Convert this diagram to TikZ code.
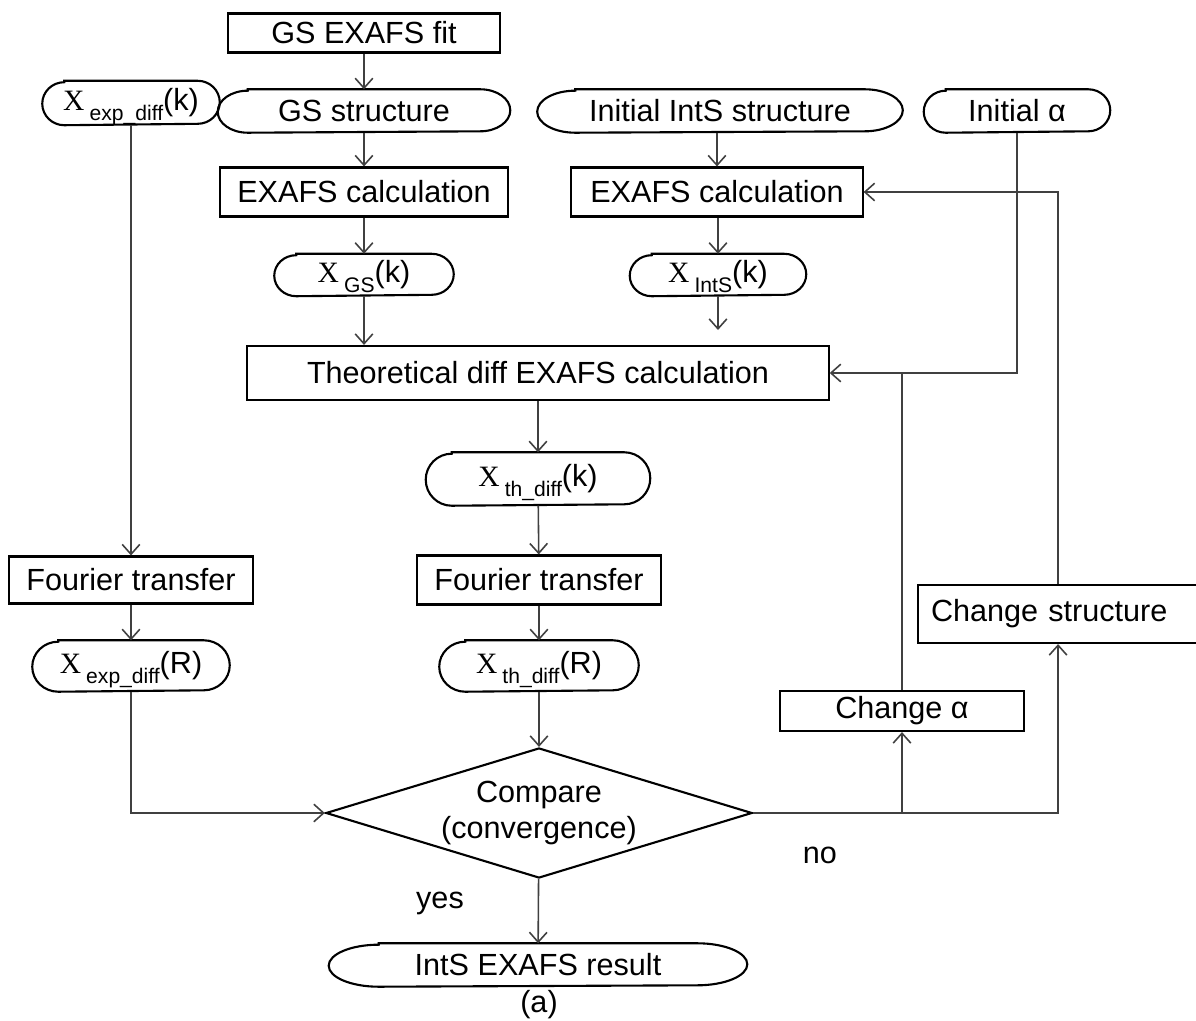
\documentclass[tikz,border=0pt]{standalone}
\usepackage{fontspec}
\setmainfont{Liberation Sans}
\newfontfamily\chifont{Liberation Serif}
\usepackage{tikz}
\usetikzlibrary{shapes.geometric,arrows.meta}

\newcommand{\chisub}[2]{{\chifont\fontsize{8.4}{9}\selectfont X}\,\raisebox{-0.3em}[0pt][0pt]{\fontsize{6}{7}\selectfont #1}(#2)}

\tikzset{
  box/.style={draw, line width=0.6pt, inner sep=0pt},
  term/.style={inner sep=0pt},
  decision/.style={diamond, draw, line width=0.6pt, inner sep=0pt, aspect=3.3, align=center},
  link/.style={draw=black!75, line width=0.45pt},
  >={Straight Barb[length=2.8pt,width=5pt]}
}

\begin{document}
\begin{tikzpicture}[x=0.01cm, y=-0.01cm, font=\fontsize{8.7}{10}\selectfont]
 \useasboundingbox (0,0) rectangle (1196,1021);
 \clip (0,0) rectangle (1196,1021);
 % boxes
 \node[box, minimum width=2.72cm, minimum height=0.39cm] (gsfit) at (364,33) {GS EXAFS fit};
 \node[box, minimum width=2.88cm, minimum height=0.49cm] (calcgs) at (364,192) {EXAFS calculation};
 \node[box, minimum width=2.91cm, minimum height=0.49cm] (calcints) at (717,192) {EXAFS calculation};
 \node[box, minimum width=5.81cm, minimum height=0.54cm] (theo) at (538,373) {Theoretical diff EXAFS calculation};
 \node[box, minimum width=2.43cm, minimum height=0.47cm] (fourl) at (131,580) {Fourier transfer};
 \node[box, minimum width=2.43cm, minimum height=0.49cm] (fourr) at (539,580) {Fourier transfer};
 \node[box, anchor=west, text width=2.65cm, inner xsep=0.13cm, minimum height=0.58cm, align=left] (chgstruct) at (917,614) {Change structure};
 \node[box, minimum width=2.43cm, minimum height=0.40cm] (chga) at (902,711) {Change α};
 \node[decision, minimum width=4.26cm, minimum height=1.30cm] (cmp) at (539,813) {Compare\\(convergence)};
 % terminals
 \node[term, minimum width=1.76cm, minimum height=0.43cm] (xexpk) at (131,103) {\chisub{exp\_diff}{k}};
 \node[term, minimum width=2.91cm, minimum height=0.42cm] (gss) at (364,111) {GS structure};
 \node[term, minimum width=3.64cm, minimum height=0.42cm] (initints) at (720,111) {Initial IntS structure};
 \node[term, minimum width=1.85cm, minimum height=0.42cm] (inita) at (1017,111) {Initial α};
 \node[term, minimum width=1.78cm, minimum height=0.41cm] (xgs) at (364,275) {\chisub{GS}{k}};
 \node[term, minimum width=1.75cm, minimum height=0.41cm] (xints) at (718,275) {\chisub{IntS}{k}};
 \node[term, minimum width=2.23cm, minimum height=0.52cm] (xthk) at (538,479) {\chisub{th\_diff}{k}};
 \node[term, minimum width=1.96cm, minimum height=0.50cm] (xexpr) at (131,666) {\chisub{exp\_diff}{R}};
 \node[term, minimum width=1.98cm, minimum height=0.50cm] (xthr) at (539,666) {\chisub{th\_diff}{R}};
 \node[term, minimum width=4.17cm, minimum height=0.42cm] (result) at (538,965) {IntS EXAFS result};
 \foreach \n/\rx/\ry in {xexpk/0.22/0.215, gss/0.30/0.21, initints/0.38/0.21, inita/0.22/0.21,
   xgs/0.22/0.205, xints/0.22/0.205, xthk/0.26/0.26, xexpr/0.26/0.25, xthr/0.26/0.25, result/0.50/0.21}
   \draw[line width=0.6pt] ([xshift=\rx cm]\n.north west) -- ([xshift=-\rx cm]\n.north east)
     arc[start angle=90, end angle=-90, x radius=\rx cm, y radius=\ry cm]
     -- ([xshift=\rx cm]\n.south west)
     arc[start angle=270, end angle=90, x radius=\rx cm, y radius=\ry cm] -- cycle;
 % labels
 \node (yes) at (440,903) {yes};
 \node (no) at (820,855) {no};
 \node (cap) at (539,1005) {(a)};
 \coordinate (intsend) at (718,330);
 % connectors
 \draw[link,->] (gsfit) -- (gss);
 \draw[link,->] (gss) -- (calcgs);
 \draw[link,->] (calcgs) -- (xgs);
 \draw[link,->] (xgs) -- (xgs |- theo.north);
 \draw[link,->] (initints.south -| calcints) -- (calcints);
 \draw[link,->] (calcints.south -| xints) -- (xints);
 \draw[link,->] (xints) -- (intsend);
 \draw[link,->] (inita.south) |- (theo.east);
 \draw[link,->] (theo.south -| xthk) -- (xthk);
 \draw[link,->] (xthk) -- (fourr);
 \draw[link,->] (fourr) -- (xthr);
 \draw[link,->] (xthr) -- (cmp);
 \draw[link,->] (xexpk) -- (fourl);
 \draw[link,->] (fourl) -- (xexpr);
 \draw[link,->] (xexpr.south) |- (cmp.west);
 \draw[link,->] (cmp) -- (result);
 \draw[link,->] (cmp.east) -| ([xshift=1.41cm]chgstruct.south west);
 \draw[link,->] (cmp.east -| chga.south) -- (chga.south);
 \draw[link] (chga.north) -- (chga.north |- theo.east);
 \draw[link,->] ([xshift=1.41cm]chgstruct.north west) |- (calcints.east);
\end{tikzpicture}
\end{document}
